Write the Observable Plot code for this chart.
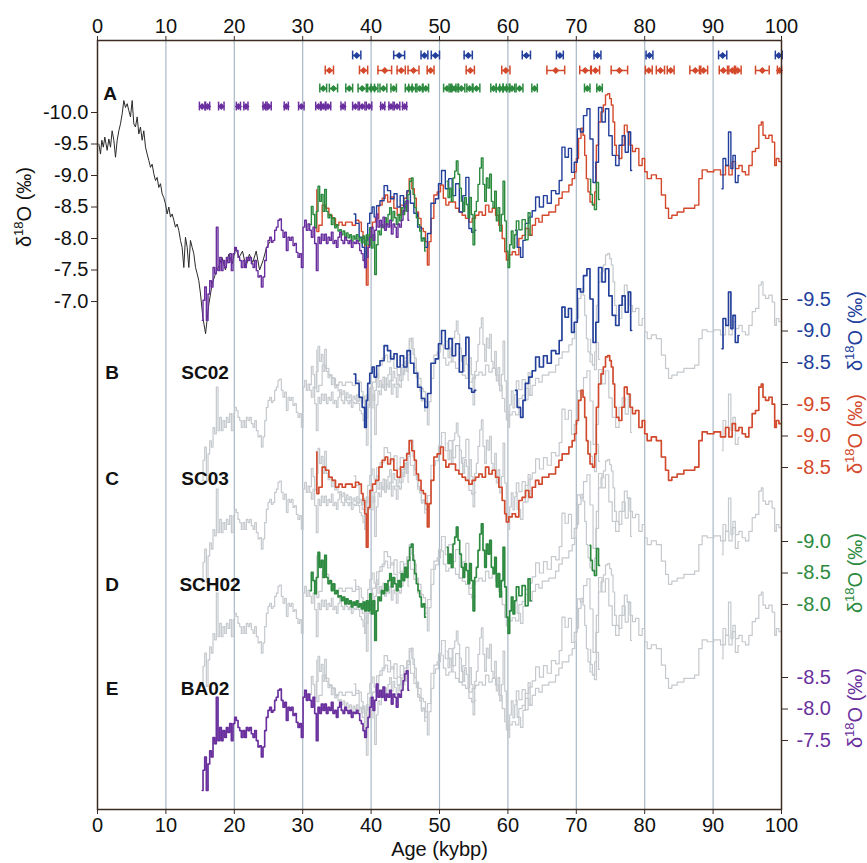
<!DOCTYPE html>
<html><head><meta charset="utf-8">
<script src="https://cdn.jsdelivr.net/npm/d3@7"></script>
<script src="https://cdn.jsdelivr.net/npm/@observablehq/plot@0.6"></script>
<style>body{margin:0;background:#fff;}</style>
</head><body><div id="chart"></div>
<script>
// ---- data: [age (kybp), δ18O (‰, panel-A scale)] ; null = gap ----
const black = [[0.2,-9.5],[0.44,-9.34],[0.63,-9.56],[0.85,-9.45],[1.07,-9.61],[1.41,-9.4],[1.66,-9.58],[1.9,-9.45],[2.14,-9.71],[2.39,-9.56],[2.63,-9.29],[2.88,-9.56],[3.12,-9.71],[3.36,-9.82],[3.61,-9.98],[3.85,-10.19],[4.09,-10.08],[4.34,-10.14],[4.58,-10.03],[4.82,-9.93],[5.07,-10.19],[5.31,-9.82],[5.55,-9.77],[5.8,-9.93],[6.04,-9.66],[6.28,-9.77],[6.53,-9.56],[6.77,-9.71],[7.02,-9.45],[7.26,-9.34],[7.5,-9.24],[7.75,-9.13],[7.99,-9.18],[8.23,-9.03],[8.48,-8.92],[8.72,-8.97],[8.96,-8.81],[9.21,-8.87],[9.45,-8.71],[9.69,-8.65],[9.94,-8.55],[10.18,-8.39],[10.43,-8.5],[10.67,-8.34],[10.91,-8.39],[11.16,-8.29],[11.4,-8.18],[11.64,-8.23],[11.89,-8.13],[12.13,-7.97],[12.37,-7.86],[12.62,-7.54],[12.86,-8.02],[13.11,-7.86],[13.35,-7.54],[13.59,-7.97],[13.84,-7.86],[14.08,-7.76],[14.33,-7.54],[14.57,-7.44],[14.81,-7.33],[15.06,-7.12],[15.4,-6.75],[15.8,-6.49],[16.28,-6.96],[16.76,-7.28],[17.25,-7.44],[17.7,-7.55],[18.2,-7.7],[18.7,-7.5],[19.2,-7.75],[19.7,-7.6],[20.2,-7.85],[20.7,-7.7],[21.2,-7.8],[21.7,-7.55],[22.2,-7.75],[22.7,-7.62],[23.2,-7.8],[23.7,-7.5],[24.2,-7.65],[24.7,-7.85],[25.2,-7.95]];

const purple = [[15.31,-6.7],[15.55,-7.02],[15.79,-7.23],[16.04,-6.7],[16.28,-7.12],[16.52,-7.33],[16.77,-7.23],[17.01,-7.54],[17.25,-7.44],[17.5,-8.18],[17.74,-7.49],[17.99,-7.7],[18.23,-7.49],[18.47,-7.65],[18.72,-7.54],[18.96,-7.7],[19.2,-7.62],[19.45,-7.76],[19.69,-7.49],[19.94,-7.76],[20.18,-7.86],[20.42,-7.81],[20.67,-7.7],[20.91,-7.65],[21.15,-7.54],[21.4,-7.65],[21.64,-7.54],[21.88,-7.7],[22.13,-7.65],[22.37,-7.7],[22.62,-7.6],[22.86,-7.54],[23.1,-7.65],[23.35,-7.49],[23.59,-7.39],[23.83,-7.41],[24.08,-7.23],[24.32,-7.39],[24.56,-7.65],[24.81,-7.86],[25.05,-7.97],[25.3,-8.02],[25.54,-7.94],[25.78,-7.97],[26.03,-8.13],[26.27,-8.18],[26.51,-8.29],[26.76,-8.31],[27.0,-8.13],[27.25,-8.02],[27.49,-8.1],[27.73,-7.81],[27.98,-8.02],[28.22,-7.97],[28.46,-8.02],[28.71,-7.89],[28.95,-7.92],[29.19,-7.78],[29.44,-7.7],[29.68,-7.76],[29.93,-7.54],[30.17,-8.18],[30.41,-8.29],[30.66,-8.13],[30.9,-8.23],[31.14,-8.13],[31.39,-8.02],[31.63,-8.18],[31.87,-7.92],[32.12,-7.49],[32.36,-8.02],[32.6,-7.92],[32.85,-8.07],[33.09,-7.97],[33.34,-8.07],[33.58,-7.92],[33.82,-8.02],[34.07,-7.97],[34.31,-8.1],[34.55,-7.92],[34.8,-7.97],[35.04,-7.86],[35.28,-8.02],[35.53,-8.1],[35.77,-7.97],[36.02,-7.92],[36.26,-8.02],[36.5,-7.97],[36.75,-7.92],[36.99,-7.97],[37.23,-7.86],[37.48,-7.94],[37.72,-7.92],[37.96,-7.97],[38.21,-7.92],[38.45,-7.81],[38.7,-7.76],[38.94,-7.65],[39.18,-7.54],[39.43,-7.7],[39.67,-7.86],[39.91,-8.02],[40.16,-8.18],[40.4,-7.97],[40.65,-8.13],[40.89,-8.39],[41.13,-8.18],[41.38,-8.29],[41.62,-8.18],[41.86,-8.34],[42.11,-8.13],[42.35,-8.23],[42.59,-8.18],[42.84,-8.29],[43.08,-8.07],[43.33,-8.23],[43.57,-8.18],[43.81,-8.02],[44.06,-8.23],[44.3,-8.18],[44.55,-8.29],[44.79,-8.44],[45.03,-8.55],[45.28,-8.6],[45.52,-8.29]];

const blue = [[37.5,-8.39],[38.0,-8.24],[38.5,-8.02],[38.9,-7.86],[39.2,-7.54],[39.4,-7.97],[39.6,-8.24],[40.0,-8.4],[40.3,-8.5],[40.6,-8.34],[41.0,-8.52],[41.6,-8.6],[42.2,-8.84],[42.6,-8.76],[43.1,-8.63],[43.6,-8.71],[44.0,-8.5],[44.5,-8.68],[45.0,-8.5],[45.5,-8.76],[46.0,-8.56],[46.5,-8.4],[47.1,-8.18],[47.6,-8.0],[48.1,-7.86],[48.4,-8.08],[49.1,-8.56],[49.7,-8.63],[50.0,-8.87],[50.6,-9.08],[51.1,-8.79],[51.6,-8.95],[52.1,-8.68],[52.6,-8.87],[53.2,-8.42],[53.6,-8.68],[54.1,-8.97],[54.5,-8.16],[54.9,-8.1],[55.3,-8.13],[58,null],[61.1,-8.13],[61.6,-7.86],[62.1,-7.7],[62.3,-7.97],[62.8,-8.24],[63.3,-8.34],[63.8,-8.44],[64.3,-8.66],[64.9,-8.5],[65.5,-8.68],[66.0,-8.56],[66.7,-8.76],[67.3,-8.71],[67.7,-8.92],[68.1,-9.45],[68.6,-9.29],[69.1,-9.43],[69.5,-9.05],[69.9,-9.21],[70.4,-9.74],[70.8,-9.69],[71.3,-9.95],[71.8,-10.06],[72.2,-9.58],[72.7,-8.89],[73.0,-9.21],[73.5,-10.08],[74.0,-9.85],[74.5,-10.06],[75.0,-9.63],[75.5,-9.32],[76.0,-9.16],[76.5,-9.48],[76.9,-9.63],[77.4,-9.37],[77.8,-9.69],[78.1,-9.08],[85,null],[91.3,-8.79],[91.6,-9.27],[92.1,-9.16],[92.4,-9.69],[92.8,-9.11],[93.0,-9.32],[93.5,-8.89],[93.8,-9.0]];

const red = [[32.02,-8.77],[32.12,-8.11],[32.6,-8.21],[33.09,-8.53],[33.58,-8.48],[34.07,-8.37],[34.55,-8.32],[35.04,-8.21],[35.53,-8.26],[36.02,-8.21],[36.5,-8.26],[36.99,-8.26],[37.48,-8.21],[37.96,-8.29],[38.45,-8.26],[38.7,-8.11],[38.94,-8.0],[39.18,-7.79],[39.43,-7.26],[39.67,-7.89],[40.01,-8.16],[40.4,-8.26],[40.89,-8.32],[41.38,-8.53],[41.86,-8.64],[42.25,-8.69],[42.59,-8.58],[43.08,-8.66],[43.57,-8.48],[44.06,-8.37],[44.54,-8.53],[45.03,-8.64],[45.37,-8.74],[45.76,-8.95],[46.15,-8.79],[46.49,-8.64],[46.74,-8.42],[47.13,-8.32],[47.47,-8.16],[47.81,-8.11],[48.1,-7.95],[48.35,-7.58],[48.59,-7.95],[48.93,-8.32],[49.42,-8.69],[49.9,-8.74],[50.39,-8.85],[50.73,-8.64],[51.12,-8.53],[51.61,-8.58],[52.1,-8.58],[52.58,-8.48],[53.07,-8.42],[53.56,-8.37],[54.05,-8.32],[54.53,-8.26],[55.02,-8.32],[55.51,-8.37],[56.0,-8.42],[56.48,-8.37],[56.97,-8.53],[57.46,-8.42],[57.95,-8.48],[58.43,-8.37],[58.92,-8.21],[59.41,-8.0],[59.65,-7.79],[59.89,-7.66],[60.38,-7.74],[60.87,-7.79],[61.36,-7.74],[61.84,-8.0],[62.33,-8.05],[62.82,-8.16],[63.31,-8.05],[63.79,-8.21],[64.28,-8.32],[64.77,-8.26],[65.26,-8.37],[65.74,-8.37],[66.23,-8.42],[66.72,-8.42],[67.21,-8.53],[67.69,-8.64],[68.18,-8.74],[68.67,-8.74],[69.15,-8.85],[69.64,-8.95],[69.89,-9.06],[70.13,-9.27],[70.52,-9.59],[70.86,-9.75],[71.1,-9.64],[71.35,-9.32],[71.59,-8.95],[71.83,-8.74],[72.18,-8.58],[72.57,-8.53],[72.81,-8.74],[73.05,-9.48],[73.44,-9.85],[73.78,-10.01],[74.12,-10.12],[74.42,-10.28],[74.76,-10.3],[75.0,-10.22],[75.25,-10.12],[75.49,-9.85],[75.73,-9.48],[75.98,-9.32],[76.46,-9.27],[76.85,-9.48],[77.2,-9.8],[77.68,-9.69],[78.02,-9.48],[78.41,-9.38],[78.9,-9.43],[79.39,-9.16],[79.87,-9.27],[80.12,-9.06],[80.61,-8.95],[81.34,-9.01],[82.07,-8.95],[82.8,-8.69],[83.29,-8.48],[83.68,-8.32],[84.26,-8.37],[85.24,-8.42],[86.21,-8.48],[86.94,-8.48],[87.67,-8.53],[88.16,-8.95],[88.65,-9.09],[89.62,-9.06],[90.6,-9.09],[91.57,-9.01],[92.06,-9.16],[92.55,-9.01],[93.03,-9.22],[93.52,-9.11],[94.01,-9.16],[94.49,-9.06],[94.98,-9.01],[95.47,-9.16],[95.96,-9.38],[96.44,-9.43],[96.93,-9.8],[97.17,-9.85],[97.42,-9.64],[97.91,-9.59],[98.39,-9.64],[98.88,-9.53],[99.12,-9.16],[99.37,-9.27],[99.86,-9.22]];

const green = [[31.14,-8.22],[31.39,-8.51],[31.63,-8.38],[31.87,-8.17],[32.12,-8.43],[32.36,-8.83],[32.6,-8.59],[32.85,-8.7],[33.09,-8.43],[33.34,-8.78],[33.58,-8.43],[33.82,-8.33],[34.07,-8.38],[34.31,-8.22],[34.55,-8.33],[34.8,-8.17],[35.04,-8.22],[35.28,-8.12],[35.53,-8.14],[35.77,-8.06],[36.02,-8.12],[36.26,-8.01],[36.5,-8.09],[36.75,-8.01],[36.99,-8.06],[37.23,-7.96],[37.48,-8.04],[37.72,-7.99],[37.96,-8.06],[38.21,-7.96],[38.45,-8.01],[38.7,-7.93],[38.94,-8.04],[39.18,-7.9],[39.43,-8.06],[39.67,-7.9],[39.91,-8.17],[40.16,-7.85],[40.4,-8.06],[40.65,-7.43],[40.89,-7.9],[41.13,-8.12],[41.38,-8.06],[41.62,-8.22],[41.86,-8.17],[42.11,-8.33],[42.35,-8.22],[42.59,-8.38],[42.84,-8.49],[43.08,-8.28],[43.33,-8.43],[43.57,-8.33],[43.81,-8.22],[44.06,-8.38],[44.3,-8.28],[44.54,-8.49],[44.79,-8.38],[45.03,-8.59],[45.27,-8.43],[45.52,-8.7],[45.76,-8.91],[46.01,-8.96],[46.25,-8.7],[46.49,-8.49],[46.74,-8.33],[46.98,-8.22],[47.22,-8.12],[47.47,-7.96],[47.71,-8.01],[47.96,-7.8],[49.5,null],[51.12,-8.91],[51.37,-8.65],[51.61,-8.8],[51.85,-8.59],[52.1,-8.96],[52.34,-9.07],[52.58,-9.23],[52.83,-9.02],[53.07,-8.8],[53.32,-8.59],[53.56,-8.43],[53.8,-8.65],[54.05,-8.54],[54.29,-8.33],[54.53,-8.65],[54.78,-8.38],[55.02,-7.9],[55.27,-8.43],[55.51,-8.59],[55.75,-8.86],[56.0,-9.12],[56.24,-9.28],[56.48,-8.86],[56.73,-8.59],[56.97,-8.96],[57.21,-8.8],[57.46,-9.02],[57.7,-8.59],[57.95,-8.49],[58.19,-8.75],[58.43,-8.28],[58.68,-8.49],[58.92,-8.12],[59.17,-8.38],[59.41,-8.91],[59.65,-8.28],[59.89,-7.8],[60.14,-7.54],[60.38,-7.9],[60.62,-8.12],[60.87,-7.85],[61.11,-8.06],[61.36,-8.28],[61.84,-8.14],[62.3,-8.3],[62.8,-7.98],[63.1,-8.41],[63.4,-8.06],[68,null],[72.0,-8.94],[72.2,-8.7],[72.5,-8.54],[72.8,-8.46],[73.1,-8.89],[73.4,-8.62]];

// dating points: [age, ± error (kyr)]
const blueDates = [[37.9,0.6],[44.1,0.8],[47.8,0.5],[49.4,0.6],[54.2,0.6],[62.7,0.6],[67.6,0.5],[73.1,0.5],[80.7,0.5],[91.4,0.6],[99.6,0.5]];
const redDates = [[33.9,0.6],[38.9,0.6],[42.0,1.0],[44.4,0.6],[46.2,0.8],[48.7,0.5],[54.5,0.6],[59.7,0.6],[67.0,1.3],[71.3,0.8],[72.8,0.6],[76.3,1.2],[80.6,0.5],[82.3,0.6],[83.8,0.5],[87.4,0.8],[88.6,0.6],[91.5,0.6],[92.8,0.5],[93.6,0.5],[97.2,1.0],[99.7,0.3]];
const greenDates = [[33.0,0.5],[34.5,0.6],[36.8,0.5],[38.7,0.6],[40.0,0.5],[40.5,0.5],[41.8,0.5],[43.3,0.4],[45.5,0.5],[46.0,0.5],[47.1,0.4],[48.0,0.4],[51.1,0.5],[51.9,0.5],[52.3,0.5],[53.2,0.5],[54.4,0.4],[55.4,0.5],[57.9,0.4],[58.8,0.5],[59.3,0.5],[59.8,0.5],[60.6,0.4],[61.7,0.5],[63.9,0.4],[71.6,0.4],[73.4,0.4]];
const purpleDates = [[15.3,0.4],[16.1,0.3],[18.1,0.4],[20.6,0.3],[21.7,0.3],[24.5,0.3],[25.0,0.4],[27.6,0.3],[29.8,0.4],[32.3,0.4],[33.0,0.4],[33.7,0.4],[35.9,0.3],[37.7,0.4],[38.7,0.4],[39.7,0.4],[41.7,0.3],[42.9,0.3],[43.8,0.4],[44.9,0.3]];

const xTicks = [0,10,20,30,40,50,60,70,80,90,100];
const leftTicks = [-10,-9.5,-9,-8.5,-8,-7.5,-7];
const ticksB = [-9.5,-9,-8.5], ticksC = [-9.5,-9,-8.5], ticksD = [-9,-8.5,-8], ticksE = [-8.5,-8,-7.5];
const panelNames = [["A",""],["B","SC02"],["C","SC03"],["D","SCH02"],["E","BA02"]];

// ---- styling / layout constants ----
const C = {blue:"#233f9c", red:"#d4492b", green:"#2b8a3e", purple:"#6a2f9e", black:"#2a2a2a", gray:"#c5c9cd"};
const U = 63; // px per permil
const shift = {B:160/U, C:262/U, D:366/U, E:470/U};      // record offsets
const axShift = {B:155.5/U, C:260.5/U, D:366/U, E:470.5/U}; // right-axis offsets
const rowY = {blue:-10.905, red:-10.667, green:-10.381, purple:-10.095};

const rows = (pairs, s=0) => pairs.map(([a,v]) => ({x:a, y: v==null ? NaN : v+s}));
const ln = (pairs, s, stroke, w, curve="step") => Plot.line(rows(pairs, s), {x:"x", y:"y", stroke, strokeWidth:w, curve});

const marks = [];
marks.push(Plot.ruleX(xTicks.slice(1,-1), {stroke:"#a9b8c7", strokeWidth:1.2}));
// gray copies in panels B-E
for (const p of ["B","C","D","E"]) {
  for (const r of [purple, blue, red, green]) marks.push(ln(r, shift[p], C.gray, 1.2));
}
// colored records in own panels
marks.push(ln(blue, shift.B, C.blue, 1.6));
marks.push(ln(red, shift.C, C.red, 1.6));
marks.push(ln(green, shift.D, C.green, 1.6));
marks.push(ln(purple, shift.E, C.purple, 1.6));
// panel A composite
marks.push(ln(black, 0, C.black, 1, "linear"));
marks.push(ln(red, 0, C.red, 1.4));
marks.push(ln(blue, 0, C.blue, 1.4));
marks.push(ln(green, 0, C.green, 1.4));
marks.push(ln(purple, 0, C.purple, 1.4));
// dating points with error bars
for (const [d, col, ry] of [[blueDates,C.blue,rowY.blue],[redDates,C.red,rowY.red],[greenDates,C.green,rowY.green],[purpleDates,C.purple,rowY.purple]]) {
  const data = d.map(([a,e]) => ({a, lo:a-e, hi:a+e}));
  marks.push(Plot.ruleY(data, {y:() => ry, x1:"lo", x2:"hi", stroke:col, strokeWidth:1.5}));
  marks.push(Plot.ruleX(data, {x:"lo", y1:() => ry-0.07, y2:() => ry+0.07, stroke:col, strokeWidth:1.5}));
  marks.push(Plot.ruleX(data, {x:"hi", y1:() => ry-0.07, y2:() => ry+0.07, stroke:col, strokeWidth:1.5}));
  marks.push(Plot.dot(data, {x:"a", y:() => ry, r:3.2, fill:col, stroke:"none", symbol:"diamond2"}));
}
marks.push(Plot.frame({stroke:"#3b2b22", strokeWidth:1.5}));
marks.push(Plot.axisX({anchor:"top", ticks:xTicks, tickSize:5, tickPadding:3, label:null, stroke:"#3b2b22", fill:"#111"}));
marks.push(Plot.axisX({anchor:"bottom", ticks:xTicks, tickSize:5, tickPadding:3, label:null, stroke:"#3b2b22", fill:"#111"}));
marks.push(Plot.axisY({anchor:"left", ticks:leftTicks, tickFormat:d => d.toFixed(1), tickSize:6, tickPadding:3, label:null, stroke:"#3b2b22", fill:"#111"}));
for (const [t, s, col] of [[ticksB,axShift.B,C.blue],[ticksC,axShift.C,C.red],[ticksD,axShift.D,C.green],[ticksE,axShift.E,C.purple]]) {
  marks.push(Plot.axisY({anchor:"right", ticks:t.map(v => v+s), tickFormat:d => (d-s).toFixed(1), tickSize:6, tickPadding:9, label:null, stroke:"#3b2b22", fill:col}));
}
marks.push(Plot.text(["Age (kybp)"], {frameAnchor:"bottom", dy:46, fontSize:20, fill:"#111"}));

const svgEl = Plot.plot({
  width:867, height:863,
  marginLeft:97, marginRight:86, marginTop:40, marginBottom:54,
  x:{domain:[0,100]},
  y:{domain:[-11.143, 1.063], reverse:true},
  style:{fontSize:"20px", fontFamily:"'Liberation Sans', Arial, sans-serif", background:"#fff", overflow:"visible"},
  marks
});
document.getElementById("chart").append(svgEl);

// ---- annotations: axis titles with superscripts, panel letters ----
const svg = d3.select(svgEl);
function d18(x, y, color) {
  const t = svg.append("text").attr("transform", `translate(${x},${y}) rotate(-90)`)
    .attr("text-anchor","middle").attr("fill",color).attr("font-size",20)
    .attr("font-family","'Liberation Sans', Arial, sans-serif").attr("dy","0.35em");
  t.append("tspan").text("δ");
  t.append("tspan").attr("dy",-8).attr("font-size",13).text("18");
  t.append("tspan").attr("dy",8).text("O (‰)");
}
d18(24, 207, "#111");
d18(855, 331, C.blue);
d18(855, 434, C.red);
d18(855, 573, C.green);
d18(855, 708, C.purple);
const letterY = [93, 372, 478, 584, 688];
const nameX = [0, 205, 205, 210, 205];
panelNames.forEach(([L, N], i) => {
  svg.append("text").attr("x", i === 0 ? 110 : 112).attr("y", letterY[i]).attr("dy","0.35em")
    .attr("text-anchor","middle").attr("font-weight","bold").attr("font-size",19)
    .attr("font-family","'Liberation Sans', Arial, sans-serif").attr("fill","#111").text(L);
  if (N) svg.append("text").attr("x", nameX[i]).attr("y", letterY[i]).attr("dy","0.35em")
    .attr("text-anchor","middle").attr("font-weight","bold").attr("font-size",19)
    .attr("font-family","'Liberation Sans', Arial, sans-serif").attr("fill","#111").text(N);
});
</script>
</body></html>
